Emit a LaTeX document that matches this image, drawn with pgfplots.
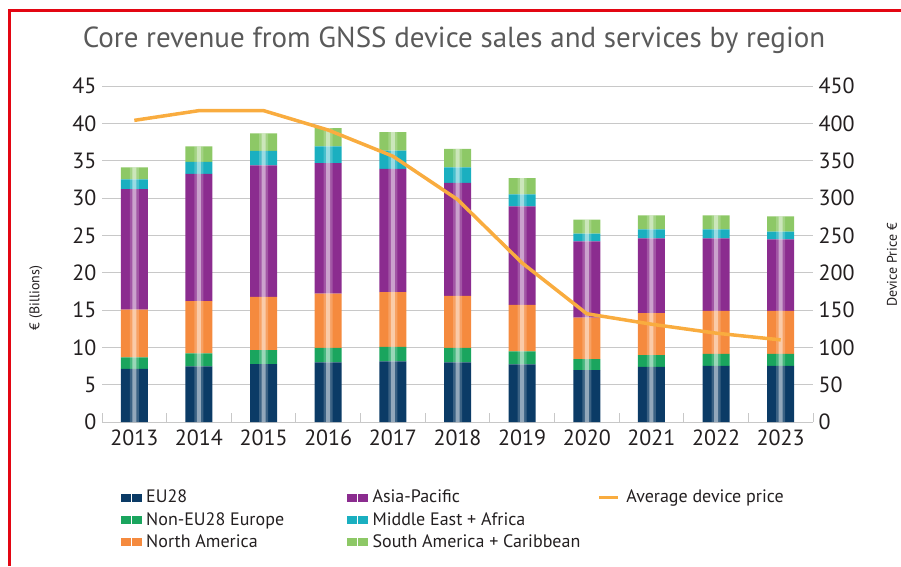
\documentclass[border=0pt]{standalone}
\usepackage{pgfplots}
\usepackage{pgfplotstable}
\pgfplotsset{compat=1.18}
\usepackage{fontspec}
\setmainfont{PT Sans}

\definecolor{cEU}{HTML}{0B3B66}
\definecolor{cNE}{HTML}{1AA55E}
\definecolor{cNA}{HTML}{F58A3E}
\definecolor{cAP}{HTML}{8B2C8F}
\definecolor{cME}{HTML}{1AAFC0}
\definecolor{cSA}{HTML}{8DC866}
\definecolor{cLine}{HTML}{F9AC3F}
\definecolor{cGrid}{HTML}{C8C8C8}
\definecolor{cText}{HTML}{231F20}
\definecolor{cTitle}{HTML}{5A5A5A}
\definecolor{cFrame}{HTML}{E30613}

% revenue in EUR billions, device price in EUR
\pgfplotstableread{
x  eu    ne    na    ap     me    sa    price
0  7.13  1.52  6.41  16.14  1.30  1.60  404
1  7.44  1.74  7.00  17.06  1.61  2.05  417
2  7.75  1.88  7.13  17.60  1.96  2.32  417
3  7.98  1.96  7.26  17.47  2.23  2.45  391
4  8.11  1.96  7.31  16.53  2.45  2.45  356
5  7.98  1.96  6.95  15.15  2.05  2.50  298
6  7.71  1.74  6.24  13.19  1.60  2.18  213
7  6.95  1.47  5.57  10.21  1.02  1.87  145
8  7.40  1.56  5.61  10.03  1.20  1.87  131
9  7.53  1.61  5.74   9.72  1.20  1.87  119
10 7.53  1.61  5.74   9.59  1.02  2.05  110
}\gnss

\newcommand\sq[1]{\fill[#1] (0pt,-3.5pt) rectangle (9pt,3.5pt); \fill[#1] (11pt,-3.5pt) rectangle (20pt,3.5pt);}

\pgfplotsset{frame/.style={at={(102pt,144pt)}, anchor=south west,
  scale only axis, width=711pt, height=336pt, xmin=-0.5, xmax=10.5}}

\begin{document}
\begin{tikzpicture}[x=1pt,y=1pt]
\useasboundingbox (0,0) rectangle (901,566);
\draw[cFrame, line width=3pt] (9,0) -- (9,555) -- (901,555);
\node[text=cTitle, font=\fontsize{29}{33}\selectfont] at (454,526) {Core revenue from GNSS device sales and services by region};
\node[rotate=90, text=cText, font=\fontsize{14}{16}\selectfont] at (36,268) {€ (Billions)};
\node[rotate=90, text=cText, font=\fontsize{14}{16}\selectfont] at (892,301) {Device Price €};

\begin{axis}[
  frame, ymin=0, ymax=45,
  ybar stacked, bar width=27pt,
  xtick={0,...,10},
  xticklabels={2013,2014,2015,2016,2017,2018,2019,2020,2021,2022,2023},
  minor xtick={-0.5,0.5,...,10.5},
  ytick={0,5,...,45},
  ymajorgrids, grid style={cGrid, line width=1pt},
  axis x line*=bottom, axis y line*=left,
  axis line style={draw=none},
  major tick length=0pt, minor tick length=9pt,
  tick align=inside,
  minor tick style={cGrid, line width=1pt},
  tick label style={text=cText, font=\fontsize{22}{26}\selectfont},
  xticklabel style={yshift=-4pt},
  yticklabel style={xshift=-2pt},
  /pgf/number format/assume math mode=true,
]
\addplot[draw=none, fill=cEU] table[x=x, y=eu] {\gnss};
\addplot[draw=none, fill=cNE] table[x=x, y=ne] {\gnss};
\addplot[draw=none, fill=cNA] table[x=x, y=na] {\gnss};
\addplot[draw=none, fill=cAP] table[x=x, y=ap] {\gnss};
\addplot[draw=none, fill=cME] table[x=x, y=me] {\gnss};
\addplot[draw=none, fill=cSA] table[x=x, y=sa] {\gnss};
\end{axis}

% pale highlight down the middle of each bar
\begin{axis}[frame, ymin=0, ymax=45, hide axis, ybar, bar shift=0pt]
\addplot[draw=none, fill=white, fill opacity=0.2, bar width=9pt]
  table[x=x, y expr=\thisrow{eu}+\thisrow{ne}+\thisrow{na}+\thisrow{ap}+\thisrow{me}+\thisrow{sa}] {\gnss};
\addplot[draw=none, fill=white, fill opacity=0.45, bar width=4pt]
  table[x=x, y expr=\thisrow{eu}+\thisrow{ne}+\thisrow{na}+\thisrow{ap}+\thisrow{me}+\thisrow{sa}] {\gnss};
\end{axis}

\begin{axis}[
  frame, ymin=0, ymax=450,
  axis x line=none, axis y line*=right,
  axis line style={draw=none},
  ytick={0,50,...,450}, major tick length=0pt,
  tick label style={text=cText, font=\fontsize{22}{26}\selectfont},
  yticklabel style={xshift=2pt},
  /pgf/number format/assume math mode=true,
  legend columns=3,
  legend cell align=left,
  legend style={at={(0.022,-0.19)}, anchor=north west, draw=none, fill=none,
    font=\fontsize{18}{20}\selectfont, text=cText, row sep=4pt,
    /tikz/column 1/.style={column sep=3pt},
    /tikz/column 2/.style={column sep=61pt},
    /tikz/column 3/.style={column sep=3pt},
    /tikz/column 4/.style={column sep=15pt},
    /tikz/column 5/.style={column sep=5pt}},
]
\addlegendimage{legend image code/.code={\sq{cEU}}}
\addlegendentry{EU28}
\addlegendimage{legend image code/.code={\sq{cAP}}}
\addlegendentry{Asia-Pacific}
\addlegendimage{legend image code/.code={\draw[cLine, line width=3pt] (0pt,0pt) -- (19pt,0pt);}}
\addlegendentry{Average device price}
\addlegendimage{legend image code/.code={\sq{cNE}}}
\addlegendentry{Non-EU28 Europe}
\addlegendimage{legend image code/.code={\sq{cME}}}
\addlegendentry{Middle East + Africa}
\addlegendimage{empty legend}
\addlegendentry{}
\addlegendimage{legend image code/.code={\sq{cNA}}}
\addlegendentry{North America}
\addlegendimage{legend image code/.code={\sq{cSA}}}
\addlegendentry{South America + Caribbean}
\addplot[cLine, line width=3.5pt, line join=round, mark=none, forget plot]
  table[x=x, y=price] {\gnss};
\end{axis}
\end{tikzpicture}
\end{document}
